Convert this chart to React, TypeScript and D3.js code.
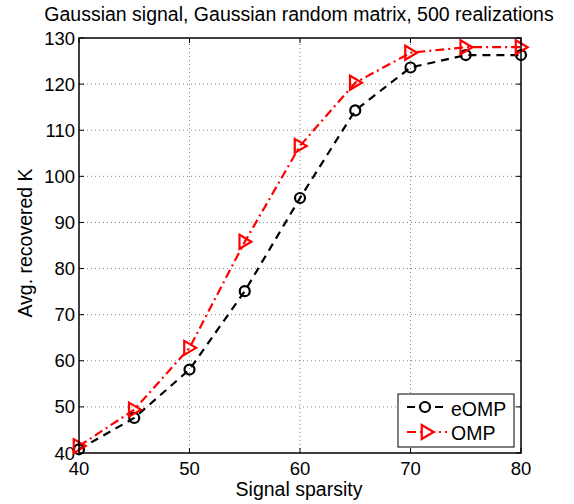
import React from "react";
import * as d3 from "d3";

const sparsity = [40, 45, 50, 55, 60, 65, 70, 75, 80];
const eompValues = [40.8, 47.6, 58.1, 75.1, 95.3, 114.3, 123.6, 126.3, 126.3];
const ompValues = [41.5, 49.4, 62.8, 85.8, 106.6, 120.3, 126.8, 128.0, 128.0];
const xTicks = [40, 50, 60, 70, 80];
const yTicks = [40, 50, 60, 70, 80, 90, 100, 110, 120, 130];
const seriesNames = ["eOMP", "OMP"];

const W = 574, H = 504;
const M = { left: 79, right: 574 - 521, top: 38, bottom: 504 - 453 };
const FONT = "'Liberation Sans', Arial, Helvetica, sans-serif";
const LABEL = 19.5;
const TICK = 18.5;

export default function App() {
  const x = d3.scaleLinear().domain([40, 80]).range([M.left, W - M.right]);
  const y = d3.scaleLinear().domain([40, 130]).range([H - M.bottom, M.top]);
  const line = d3.line<number>().x((_, i) => x(sparsity[i])).y((d) => y(d));
  const x0 = x.range()[0], x1 = x.range()[1], y0 = y.range()[0], y1 = y.range()[1];

  const tri = (cx: number, cy: number, s = 7) =>
    `M${cx - s * 0.75},${cy - s} L${cx + s * 0.95},${cy} L${cx - s * 0.75},${cy + s} Z`;

  return (
    <svg width={W} height={H} style={{ position: "absolute", left: 0, top: 0, background: "#fff" }} fontFamily={FONT}>
      <rect x={0} y={0} width={W} height={H} fill="#fff" />
      {/* grid */}
      {xTicks.slice(1, -1).map((t) => (
        <line key={"gx" + t} x1={x(t)} x2={x(t)} y1={y0} y2={y1} stroke="#666" strokeWidth={0.8} strokeDasharray="1,3" />
      ))}
      {yTicks.slice(1, -1).map((t) => (
        <line key={"gy" + t} x1={x0} x2={x1} y1={y(t)} y2={y(t)} stroke="#666" strokeWidth={0.8} strokeDasharray="1,3" />
      ))}
      {/* ticks */}
      {xTicks.map((t) => (
        <g key={"tx" + t}>
          <line x1={x(t)} x2={x(t)} y1={y0} y2={y0 - 5} stroke="#000" />
          <line x1={x(t)} x2={x(t)} y1={y1} y2={y1 + 5} stroke="#000" />
          <text x={x(t)} y={y0 + 21.5} textAnchor="middle" fontSize={TICK}>{t}</text>
        </g>
      ))}
      {yTicks.map((t) => (
        <g key={"ty" + t}>
          <line x1={x0} x2={x0 + 5} y1={y(t)} y2={y(t)} stroke="#000" />
          <line x1={x1} x2={x1 - 5} y1={y(t)} y2={y(t)} stroke="#000" />
          <text x={x0 - 4} y={y(t) + 6.5} textAnchor="end" fontSize={TICK}>{t}</text>
        </g>
      ))}
      {/* series */}
      <path d={line(ompValues) || ""} fill="none" stroke="#f00" strokeWidth={2.2} strokeDasharray="9,4,2,4" />
      <path d={line(eompValues) || ""} fill="none" stroke="#000" strokeWidth={2.2} strokeDasharray="8,6" />
      {eompValues.map((v, i) => (
        <circle key={"c" + i} cx={x(sparsity[i])} cy={y(v)} r={5} fill="none" stroke="#000" strokeWidth={2.2} />
      ))}
      {ompValues.map((v, i) => (
        <path key={"t" + i} d={tri(x(sparsity[i]), y(v))} fill="none" stroke="#f00" strokeWidth={2.2} />
      ))}
      {/* frame */}
      <rect x={x0} y={y1} width={x1 - x0} height={y0 - y1} fill="none" stroke="#000" strokeWidth={1.5} />
      {/* title and labels */}
      <text x={299} y={21} textAnchor="middle" fontSize={LABEL}>Gaussian signal, Gaussian random matrix, 500 realizations</text>
      <text x={299} y={496} textAnchor="middle" fontSize={LABEL}>Signal sparsity</text>
      <text transform={`translate(32,${243}) rotate(-90)`} textAnchor="middle" fontSize={LABEL}>Avg. recovered K</text>
      {/* legend */}
      <g>
        <rect x={398} y={394} width={116} height={53} fill="#fff" stroke="#000" strokeWidth={1} />
        <line x1={407} x2={447} y1={407} y2={407} stroke="#000" strokeWidth={2.2} strokeDasharray="8,6" />
        <circle cx={425} cy={407} r={5} fill="#fff" stroke="#000" strokeWidth={2.2} />
        <text x={451} y={416} fontSize={LABEL}>{seriesNames[0]}</text>
        <line x1={407} x2={447} y1={432} y2={432} stroke="#f00" strokeWidth={2.2} strokeDasharray="9,4,2,4" />
        <path d={tri(427, 432)} fill="#fff" stroke="#f00" strokeWidth={2.2} />
        <text x={451} y={440} fontSize={LABEL}>{seriesNames[1]}</text>
      </g>
    </svg>
  );
}
